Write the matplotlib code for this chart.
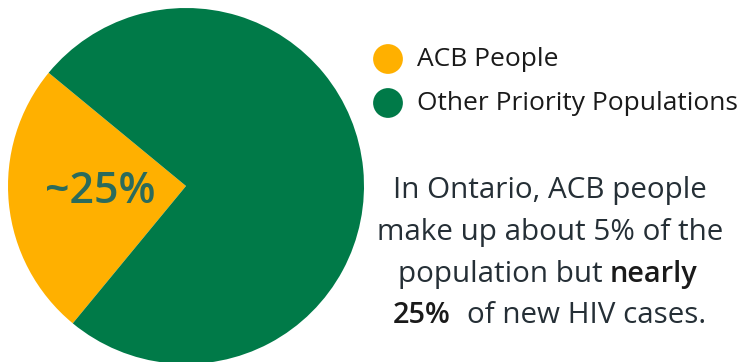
import matplotlib.pyplot as plt

plt.rcParams['font.family'] = ['Open Sans', 'DejaVu Sans']

labels = ["ACB People", "Other Priority Populations"]
shares = [25, 75]
colors = ["#FFB000", "#007A48"]
wedge_label = "~25%"

W, H = 743, 362
fig = plt.figure(figsize=(W / 100, H / 100), dpi=100)
ax = fig.add_axes([0, 0, 1, 1])

# pie in pixel units
ax.pie(shares, colors=colors, startangle=140.5, counterclock=True,
       center=(186, 176), radius=178, wedgeprops=dict(linewidth=0))
ax.set_xlim(0, W)
ax.set_ylim(0, H)
ax.set_aspect('auto')
ax.axis('off')

ax.text(100, 159, wedge_label, ha='center', va='baseline', fontsize=31,
        color="#2B6B5C", fontweight='semibold')

# legend
for i, (lab, col) in enumerate(zip(labels, colors)):
    y = 303 - i * 44
    ax.scatter([388], [y], s=460, color=col, edgecolors='none')
    ax.text(417, y, lab, ha='left', va='center', fontsize=19, color="#1A1A1A")

# note
txt = "#252F36"
fs = 21.3
ax.text(550, 164, "In Ontario, ACB people", ha='center', va='baseline', fontsize=fs, color=txt)
ax.text(550, 122, "make up about 5% of the", ha='center', va='baseline', fontsize=fs, color=txt)
ax.text(603, 80, "population but", ha='right', va='baseline', fontsize=fs, color=txt)
ax.text(610, 80, "nearly", ha='left', va='baseline', fontsize=fs - 0.5, color="#1A1A1A", fontweight='semibold')
ax.text(393, 39, "25%", ha='left', va='baseline', fontsize=fs - 0.5, color="#1A1A1A", fontweight='semibold')
ax.text(467, 39, "of new HIV cases.", ha='left', va='baseline', fontsize=fs, color=txt)

fig.savefig("out.png", dpi=100)
